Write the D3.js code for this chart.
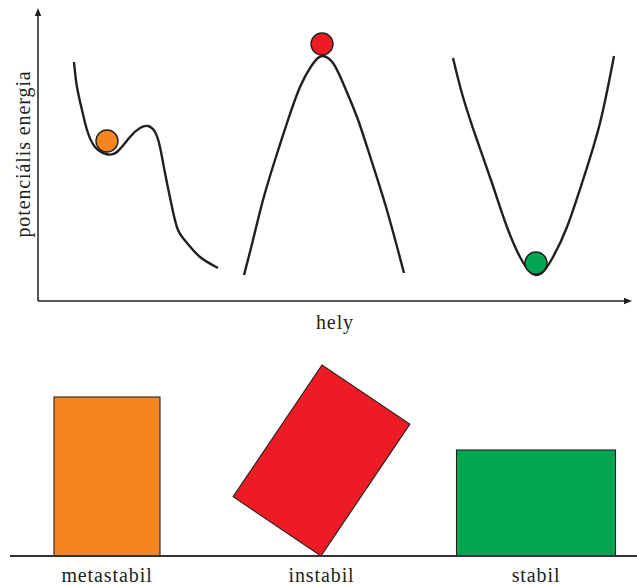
<!DOCTYPE html>
<html>
<head>
<meta charset="utf-8">
<script src="https://cdn.jsdelivr.net/npm/d3@7"></script>
<style>
  html, body { margin: 0; padding: 0; background: #fff; }
  svg { display: block; }
  text { font-family: "Liberation Serif", "Times New Roman", serif; fill: #231f20; }
</style>
</head>
<body>
<svg id="chart" width="637" height="585"></svg>
<script>
// ---------- DATA ----------
const categories = ["metastabil", "instabil", "stabil"];
const axisLabelX = "hely";
const axisLabelY = "potenciális energia";

// potential energy curves (x = hely, y = potenciális energia)
const metaHely    = [36, 39, 44, 49, 57, 68, 79, 92, 102, 110, 117, 122, 127, 134, 140, 149, 162, 180];
const metaEnergy  = [239, 214, 191, 171, 154, 147, 149, 164, 173, 175, 169, 154, 128, 94, 71, 58, 44, 33];
const instHely    = [206, 215, 225, 237, 249, 262, 274, 284, 295, 305, 319, 331, 348, 366];
const instEnergy  = [26, 61, 101, 141, 178, 214, 236, 245, 238, 218, 184, 148, 94, 28];
const stabHely    = [415, 425, 439, 454, 469, 482, 492, 498, 505, 515, 529, 545, 562, 576];
const stabEnergy  = [243, 204, 161, 118, 74, 44, 29, 26, 29, 44, 74, 121, 178, 245];

// balls resting on the curves
const ballHely   = [69, 284, 498];
const ballEnergy = [160, 257, 38];
const ballRadius = 11;

// blocks below (same block, different tilt)
const blockWidth  = 106;
const blockHeight = 159;
const blockTilt   = [0, 34, 90];   // degrees

const colors = ["#f5861f", "#ed1c24", "#00a651"];
const ink = "#231f20";

// ---------- SCALES ----------
const svg = d3.select("#chart");
const x = d3.scaleLinear().domain([0, 600]).range([38, 638]);
const y = d3.scaleLinear().domain([0, 300]).range([301, 1]);
const xb = d3.scalePoint().domain(categories).range([107, 536]);
const yb = d3.scaleLinear().domain([0, 200]).range([556, 356]);

// ---------- TOP: axes ----------
const axisG = svg.append("g");
const yTop = 293, xEnd = 594;
axisG.append("line")
  .attr("x1", x(0)).attr("y1", y(0)).attr("x2", x(0)).attr("y2", y(yTop) + 6)
  .attr("stroke", ink).attr("stroke-width", 1.5);
axisG.append("path")
  .attr("d", `M${x(0)},${y(yTop)} L${x(0) - 3.2},${y(yTop) + 8} L${x(0) + 3.2},${y(yTop) + 8} Z`)
  .attr("fill", ink);
axisG.append("line")
  .attr("x1", x(0)).attr("y1", y(0)).attr("x2", x(xEnd) - 6).attr("y2", y(0))
  .attr("stroke", ink).attr("stroke-width", 1.5);
axisG.append("path")
  .attr("d", `M${x(xEnd)},${y(0)} L${x(xEnd) - 8},${y(0) - 3.2} L${x(xEnd) - 8},${y(0) + 3.2} Z`)
  .attr("fill", ink);

axisG.append("text")
  .attr("transform", `translate(30, 154) rotate(-90)`)
  .attr("text-anchor", "middle")
  .attr("font-size", 20)
  .attr("letter-spacing", "0.9px")
  .text(axisLabelY);
axisG.append("text")
  .attr("x", 335).attr("y", 329)
  .attr("text-anchor", "middle")
  .attr("font-size", 20)
  .attr("letter-spacing", "0.9px")
  .text(axisLabelX);

// ---------- TOP: curves ----------
const line = d3.line()
  .x(d => x(d[0])).y(d => y(d[1]))
  .curve(d3.curveNatural);
const curves = [
  d3.zip(metaHely, metaEnergy),
  d3.zip(instHely, instEnergy),
  d3.zip(stabHely, stabEnergy)
];
svg.append("g").selectAll("path").data(curves).join("path")
  .attr("d", line)
  .attr("fill", "none")
  .attr("stroke", ink)
  .attr("stroke-width", 2.4)
  .attr("stroke-linecap", "butt");

svg.append("g").selectAll("circle").data(categories).join("circle")
  .attr("cx", (d, i) => x(ballHely[i]))
  .attr("cy", (d, i) => y(ballEnergy[i]))
  .attr("r", ballRadius)
  .attr("fill", (d, i) => colors[i])
  .attr("stroke", ink)
  .attr("stroke-width", 1.4);

// ---------- BOTTOM: blocks ----------
const wPx = yb(0) - yb(blockWidth);
const hPx = yb(0) - yb(blockHeight);
const blocks = svg.append("g");
categories.forEach((c, i) => {
  const t = blockTilt[i] * Math.PI / 180;
  const cs = Math.cos(t), sn = Math.sin(t);
  // rotated corner x-offsets relative to pivot (bottom-right corner)
  const xs = [0, -wPx * cs, hPx * sn, -wPx * cs + hPx * sn];
  const cx = (d3.min(xs) + d3.max(xs)) / 2;
  const px = xb(c) - cx;
  blocks.append("rect")
    .attr("transform", `translate(${px},${yb(0)}) rotate(${blockTilt[i]})`)
    .attr("x", -wPx).attr("y", -hPx)
    .attr("width", wPx).attr("height", hPx)
    .attr("fill", colors[i])
    .attr("stroke", ink)
    .attr("stroke-width", 1.1);
});

// ground line
svg.append("line")
  .attr("x1", 10).attr("x2", 637)
  .attr("y1", yb(0)).attr("y2", yb(0))
  .attr("stroke", "#333")
  .attr("stroke-width", 2);

// labels
svg.append("g").selectAll("text").data(categories).join("text")
  .attr("x", d => xb(d))
  .attr("y", 582)
  .attr("text-anchor", "middle")
  .attr("font-size", 20)
  .attr("letter-spacing", "0.9px")
  .text(d => d);
</script>
</body>
</html>
